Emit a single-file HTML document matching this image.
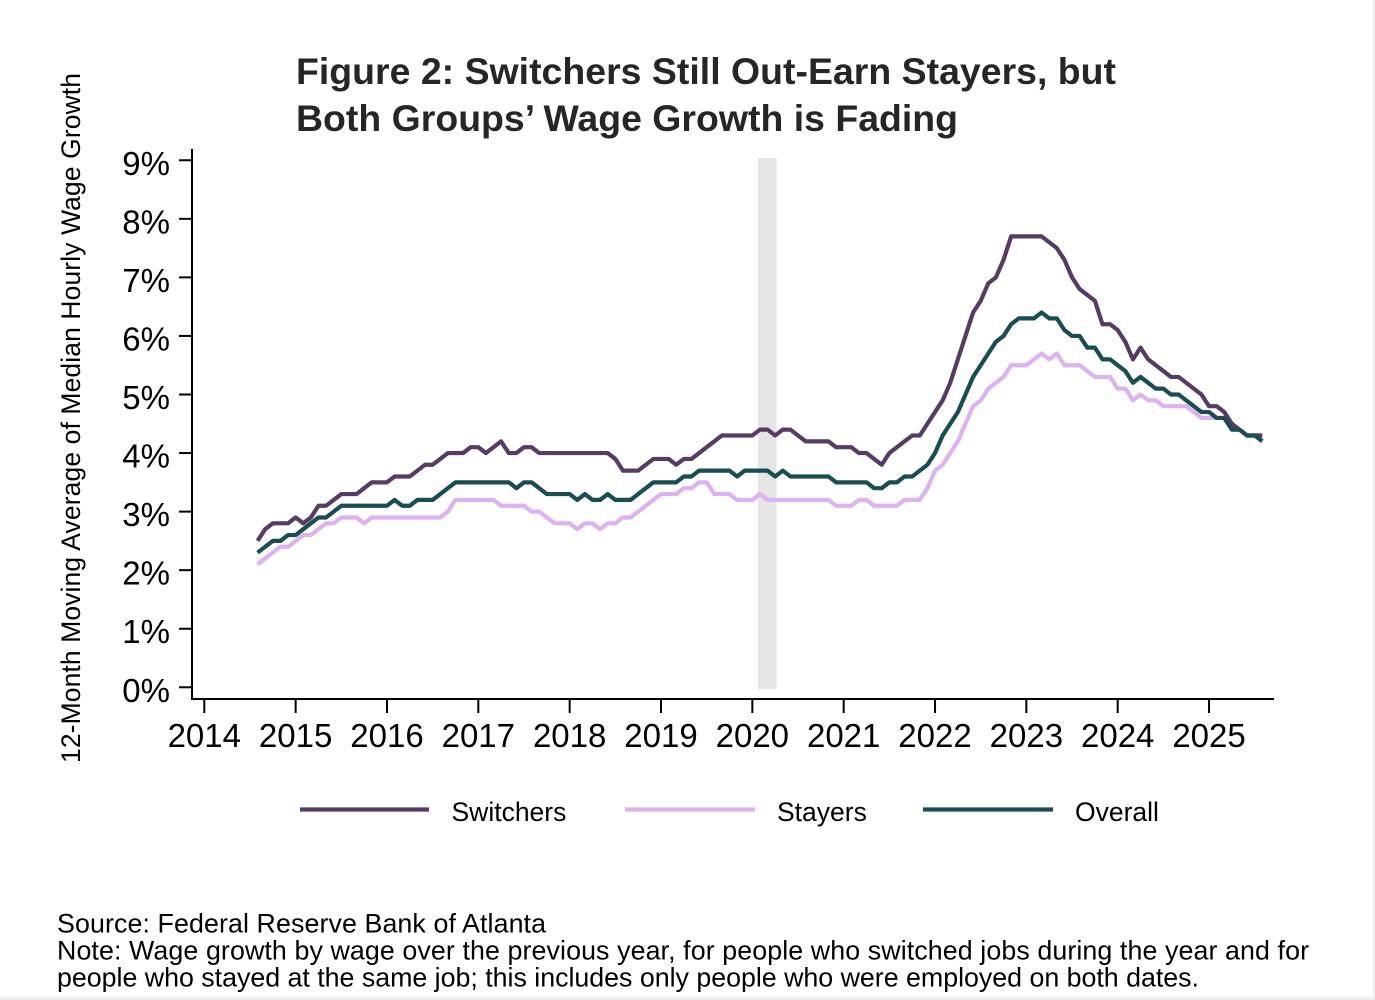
<!DOCTYPE html>
<html>
<head>
<meta charset="utf-8">
<style>
  html, body { margin: 0; padding: 0; background: #ffffff; }
  svg { display: block; }
  text { font-family: "Liberation Sans", Arial, sans-serif; }
</style>
</head>
<body>
<svg width="1375" height="1000" viewBox="0 0 1375 1000" xmlns="http://www.w3.org/2000/svg">
  <rect x="0" y="0" width="1375" height="1000" fill="#ffffff"/>
  <!-- faint frame -->
  <rect x="1373" y="0" width="2" height="1000" fill="#efefef"/>
  <rect x="0" y="997" width="1375" height="3" fill="#efefef"/>

  <!-- Title -->
  <text x="296" y="84" font-size="37.4" font-weight="bold" fill="#262626" textLength="820" lengthAdjust="spacing">Figure 2: Switchers Still Out-Earn Stayers, but</text>
  <text x="296" y="131" font-size="37.4" font-weight="bold" fill="#262626" textLength="662" lengthAdjust="spacing">Both Groups’ Wage Growth is Fading</text>

  <!-- Recession shading -->
  <rect x="758" y="158" width="18.5" height="531" fill="#e5e5e5"/>

  <!-- Axes -->
  <line x1="192" y1="149" x2="192" y2="700" stroke="#000" stroke-width="2"/>
  <line x1="191" y1="699" x2="1274" y2="699" stroke="#000" stroke-width="2"/>

  <!-- Y ticks -->
  <g stroke="#000" stroke-width="2">
    <line x1="179" y1="687.3" x2="192" y2="687.3"/>
    <line x1="179" y1="628.74" x2="192" y2="628.74"/>
    <line x1="179" y1="570.18" x2="192" y2="570.18"/>
    <line x1="179" y1="511.62" x2="192" y2="511.62"/>
    <line x1="179" y1="453.06" x2="192" y2="453.06"/>
    <line x1="179" y1="394.5" x2="192" y2="394.5"/>
    <line x1="179" y1="335.94" x2="192" y2="335.94"/>
    <line x1="179" y1="277.38" x2="192" y2="277.38"/>
    <line x1="179" y1="218.82" x2="192" y2="218.82"/>
    <line x1="179" y1="160.26" x2="192" y2="160.26"/>
  </g>
  <g font-size="33" fill="#000" text-anchor="end">
    <text x="170" y="701.8">0%</text>
    <text x="170" y="643.2">1%</text>
    <text x="170" y="584.7">2%</text>
    <text x="170" y="526.1">3%</text>
    <text x="170" y="467.6">4%</text>
    <text x="170" y="409">5%</text>
    <text x="170" y="350.4">6%</text>
    <text x="170" y="291.9">7%</text>
    <text x="170" y="233.3">8%</text>
    <text x="170" y="174.8">9%</text>
  </g>

  <!-- X ticks -->
  <g stroke="#000" stroke-width="2">
    <line x1="204.3" y1="699" x2="204.3" y2="713"/>
    <line x1="295.64" y1="699" x2="295.64" y2="713"/>
    <line x1="386.98" y1="699" x2="386.98" y2="713"/>
    <line x1="478.32" y1="699" x2="478.32" y2="713"/>
    <line x1="569.66" y1="699" x2="569.66" y2="713"/>
    <line x1="661" y1="699" x2="661" y2="713"/>
    <line x1="752.34" y1="699" x2="752.34" y2="713"/>
    <line x1="843.68" y1="699" x2="843.68" y2="713"/>
    <line x1="935.02" y1="699" x2="935.02" y2="713"/>
    <line x1="1026.36" y1="699" x2="1026.36" y2="713"/>
    <line x1="1117.7" y1="699" x2="1117.7" y2="713"/>
    <line x1="1209.04" y1="699" x2="1209.04" y2="713"/>
  </g>
  <g font-size="33" fill="#000" text-anchor="middle">
    <text x="204.3" y="747">2014</text>
    <text x="295.64" y="747">2015</text>
    <text x="386.98" y="747">2016</text>
    <text x="478.32" y="747">2017</text>
    <text x="569.66" y="747">2018</text>
    <text x="661" y="747">2019</text>
    <text x="752.34" y="747">2020</text>
    <text x="843.68" y="747">2021</text>
    <text x="935.02" y="747">2022</text>
    <text x="1026.36" y="747">2023</text>
    <text x="1117.7" y="747">2024</text>
    <text x="1209.04" y="747">2025</text>
  </g>

  <!-- Y axis title -->
  <text transform="translate(80,418) rotate(-90)" text-anchor="middle" font-size="26.4" fill="#000" textLength="690" lengthAdjust="spacing">12-Month Moving Average of Median Hourly Wage Growth</text>

  <!-- Data series: transform maps (month index, value%) to pixels -->
  <g transform="translate(204.3,687.3) scale(7.6117,-58.56)" fill="none" stroke-linejoin="round" stroke-linecap="butt">
    <polyline vector-effect="non-scaling-stroke" stroke="#dcb2f0" stroke-width="4.2" points="7,2.1 8,2.2 9,2.3 10,2.4 11,2.4 12,2.5 13,2.6 14,2.6 15,2.7 16,2.8 17,2.8 18,2.9 19,2.9 20,2.9 21,2.8 22,2.9 23,2.9 24,2.9 25,2.9 26,2.9 27,2.9 28,2.9 29,2.9 30,2.9 31,2.9 32,3 33,3.2 34,3.2 35,3.2 36,3.2 37,3.2 38,3.2 39,3.1 40,3.1 41,3.1 42,3.1 43,3 44,3 45,2.9 46,2.8 47,2.8 48,2.8 49,2.7 50,2.8 51,2.8 52,2.7 53,2.8 54,2.8 55,2.9 56,2.9 57,3 58,3.1 59,3.2 60,3.3 61,3.3 62,3.3 63,3.4 64,3.4 65,3.5 66,3.5 67,3.3 68,3.3 69,3.3 70,3.2 71,3.2 72,3.2 73,3.3 74,3.2 75,3.2 76,3.2 77,3.2 78,3.2 79,3.2 80,3.2 81,3.2 82,3.2 83,3.1 84,3.1 85,3.1 86,3.2 87,3.2 88,3.1 89,3.1 90,3.1 91,3.1 92,3.2 93,3.2 94,3.2 95,3.4 96,3.7 97,3.8 98,4 99,4.2 100,4.5 101,4.8 102,4.9 103,5.1 104,5.2 105,5.3 106,5.5 107,5.5 108,5.5 109,5.6 110,5.7 111,5.6 112,5.7 113,5.5 114,5.5 115,5.5 116,5.4 117,5.3 118,5.3 119,5.3 120,5.1 121,5.1 122,4.9 123,5 124,4.9 125,4.9 126,4.8 127,4.8 128,4.8 129,4.8 130,4.7 131,4.6 132,4.6 133,4.6 134,4.6 135,4.4 136,4.4 137,4.3 138,4.3 139,4.3"/>
    <polyline vector-effect="non-scaling-stroke" stroke="#563c64" stroke-width="4.2" points="7,2.5 8,2.7 9,2.8 10,2.8 11,2.8 12,2.9 13,2.8 14,2.9 15,3.1 16,3.1 17,3.2 18,3.3 19,3.3 20,3.3 21,3.4 22,3.5 23,3.5 24,3.5 25,3.6 26,3.6 27,3.6 28,3.7 29,3.8 30,3.8 31,3.9 32,4 33,4 34,4 35,4.1 36,4.1 37,4 38,4.1 39,4.2 40,4 41,4 42,4.1 43,4.1 44,4 45,4 46,4 47,4 48,4 49,4 50,4 51,4 52,4 53,4 54,3.9 55,3.7 56,3.7 57,3.7 58,3.8 59,3.9 60,3.9 61,3.9 62,3.8 63,3.9 64,3.9 65,4 66,4.1 67,4.2 68,4.3 69,4.3 70,4.3 71,4.3 72,4.3 73,4.4 74,4.4 75,4.3 76,4.4 77,4.4 78,4.3 79,4.2 80,4.2 81,4.2 82,4.2 83,4.1 84,4.1 85,4.1 86,4 87,4 88,3.9 89,3.8 90,4 91,4.1 92,4.2 93,4.3 94,4.3 95,4.5 96,4.7 97,4.9 98,5.2 99,5.6 100,6 101,6.4 102,6.6 103,6.9 104,7 105,7.3 106,7.7 107,7.7 108,7.7 109,7.7 110,7.7 111,7.6 112,7.5 113,7.3 114,7 115,6.8 116,6.7 117,6.6 118,6.2 119,6.2 120,6.1 121,5.9 122,5.6 123,5.8 124,5.6 125,5.5 126,5.4 127,5.3 128,5.3 129,5.2 130,5.1 131,5 132,4.8 133,4.8 134,4.7 135,4.5 136,4.4 137,4.3 138,4.3 139,4.3"/>
    <polyline vector-effect="non-scaling-stroke" stroke="#1a4d52" stroke-width="4.2" points="7,2.3 8,2.4 9,2.5 10,2.5 11,2.6 12,2.6 13,2.7 14,2.8 15,2.9 16,2.9 17,3 18,3.1 19,3.1 20,3.1 21,3.1 22,3.1 23,3.1 24,3.1 25,3.2 26,3.1 27,3.1 28,3.2 29,3.2 30,3.2 31,3.3 32,3.4 33,3.5 34,3.5 35,3.5 36,3.5 37,3.5 38,3.5 39,3.5 40,3.5 41,3.4 42,3.5 43,3.5 44,3.4 45,3.3 46,3.3 47,3.3 48,3.3 49,3.2 50,3.3 51,3.2 52,3.2 53,3.3 54,3.2 55,3.2 56,3.2 57,3.3 58,3.4 59,3.5 60,3.5 61,3.5 62,3.5 63,3.6 64,3.6 65,3.7 66,3.7 67,3.7 68,3.7 69,3.7 70,3.6 71,3.7 72,3.7 73,3.7 74,3.7 75,3.6 76,3.7 77,3.6 78,3.6 79,3.6 80,3.6 81,3.6 82,3.6 83,3.5 84,3.5 85,3.5 86,3.5 87,3.5 88,3.4 89,3.4 90,3.5 91,3.5 92,3.6 93,3.6 94,3.7 95,3.8 96,4 97,4.3 98,4.5 99,4.7 100,5 101,5.3 102,5.5 103,5.7 104,5.9 105,6 106,6.2 107,6.3 108,6.3 109,6.3 110,6.4 111,6.3 112,6.3 113,6.1 114,6 115,6 116,5.8 117,5.8 118,5.6 119,5.6 120,5.5 121,5.4 122,5.2 123,5.3 124,5.2 125,5.1 126,5.1 127,5 128,5 129,4.9 130,4.8 131,4.7 132,4.7 133,4.6 134,4.6 135,4.4 136,4.4 137,4.3 138,4.3 139,4.2"/>
  </g>

  <!-- Legend -->
  <line x1="300" y1="809.5" x2="429" y2="809.5" stroke="#563c64" stroke-width="4.3"/>
  <text x="451.5" y="821" font-size="26.5" fill="#000">Switchers</text>
  <line x1="625" y1="809.5" x2="755" y2="809.5" stroke="#dcb2f0" stroke-width="4.3"/>
  <text x="777" y="821" font-size="26.5" fill="#000">Stayers</text>
  <line x1="923" y1="809.5" x2="1053" y2="809.5" stroke="#1a4d52" stroke-width="4.3"/>
  <text x="1075" y="821" font-size="26.5" fill="#000">Overall</text>

  <!-- Footer -->
  <text x="57" y="932.5" font-size="26.8" fill="#000" textLength="489" lengthAdjust="spacing">Source: Federal Reserve Bank of Atlanta</text>
  <text x="57" y="959.5" font-size="26.8" fill="#000" textLength="1252" lengthAdjust="spacing">Note: Wage growth by wage over the previous year, for people who switched jobs during the year and for</text>
  <text x="57" y="986.5" font-size="26.8" fill="#000" textLength="1142" lengthAdjust="spacing">people who stayed at the same job; this includes only people who were employed on both dates.</text>
</svg>
</body>
</html>
